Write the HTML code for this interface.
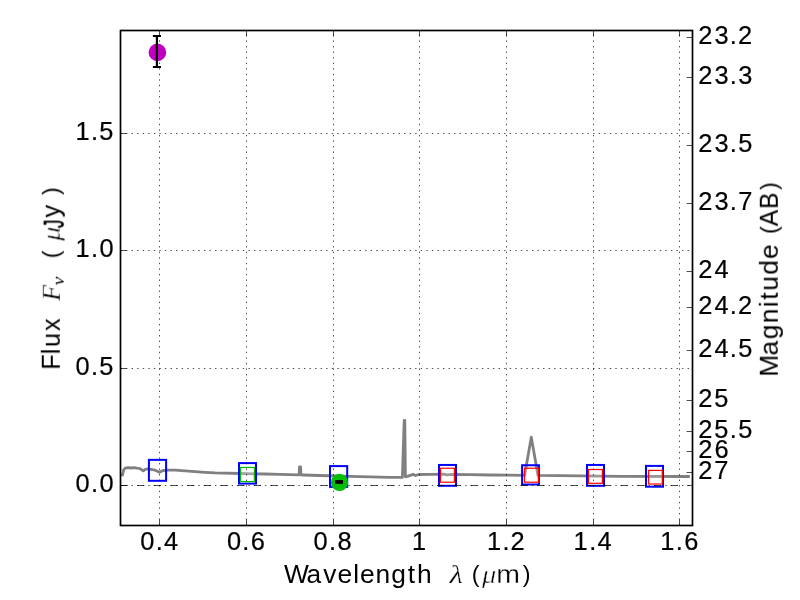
<!DOCTYPE html>
<html lang="en"><head><meta charset="utf-8"><title>Flux vs Wavelength</title>
<style>
html,body{margin:0;padding:0;background:#ffffff;}
body{width:800px;height:600px;overflow:hidden;position:relative;font-size:0;line-height:0;}
svg{display:block;position:absolute;left:0;top:0;font-family:"Liberation Sans",sans-serif;font-size:25.4px;}
text{fill:#000000;}
.m{font-family:"Liberation Serif",serif;font-style:italic;}
.k1{stroke:#ffffff;stroke-width:0.25px;}
.k2{stroke:#ffffff;stroke-width:0.45px;}
.b1{stroke:#000000;stroke-width:0.5px;}
.tk{stroke:#000000;stroke-width:0.22px;}
.txt{opacity:0.999;}
.grid{stroke:#000;stroke-width:0.7;stroke-dasharray:1.39 4.17;fill:none;}
.tick{stroke:#000;stroke-width:0.7;fill:none;}
</style></head><body>
<svg width="800" height="600" viewBox="0 0 800 600">
<rect x="0" y="0" width="800" height="600" fill="#ffffff"/>
<polyline fill="none" stroke="#808080" stroke-width="2.8" stroke-linejoin="round" stroke-linecap="butt" points="122.2,476.2 122.7,474 123.6,470.2 125.2,468.2 128,467.6 131,468 134,467.7 137,468.2 140,468.6 142,470 143.4,470.9 145,469.5 147,469 151,469.4 155,470.2 158,471.5 159.5,472.4 161,471.5 163,470.5 168,470.2 175,470.1 185,470.8 195,471.6 205,472.3 215,472.9 240,473.5 265,474 280,474.4 298.6,474.9 299.2,474.4 299.5,466.8 300.6,466.8 300.9,474.9 303,475 320,475.5 350,476.3 390,477.3 402.4,477.4 404.2,420.3 404.8,420.3 405.4,476.8 408,476.1 411,475.2 413,474.4 415.6,475.5 418.5,474.5 430,474.3 444,474.2 447,474.9 452,474.4 470,474.7 490,475 524.6,475.3 531.3,437.2 538,475.4 560,475.7 580,475.9 620,476.3 689.8,476.5"/>
<rect x="148.9" y="459.85" width="17.2" height="20.95" fill="none" stroke="#0000ff" stroke-width="2"/>
<rect x="239" y="463.1" width="17" height="20.5" fill="none" stroke="#0000ff" stroke-width="2"/>
<rect x="330" y="466.1" width="17.2" height="20.8" fill="none" stroke="#0000ff" stroke-width="2"/>
<rect x="439" y="464.95" width="17" height="20.85" fill="none" stroke="#0000ff" stroke-width="2"/>
<rect x="522.1" y="465.25" width="16.8" height="19.25" fill="none" stroke="#0000ff" stroke-width="2"/>
<rect x="587" y="464.95" width="17" height="20.85" fill="none" stroke="#0000ff" stroke-width="2"/>
<rect x="646" y="465.9" width="17" height="20.8" fill="none" stroke="#0000ff" stroke-width="2"/>
<rect x="240.5" y="467.45" width="13.9" height="14.15" fill="#ffffff" fill-opacity="0.3" stroke="#00bf00" stroke-width="1.2"/>
<rect x="440.5" y="468.25" width="13.9" height="13.95" fill="#ffffff" fill-opacity="0.2" stroke="#ff0000" stroke-width="1.2"/>
<rect x="524.5" y="468.25" width="13.9" height="13.95" fill="#ffffff" fill-opacity="0.2" stroke="#ff0000" stroke-width="1.2"/>
<rect x="588.5" y="469.5" width="13.9" height="13.8" fill="#ffffff" fill-opacity="0.2" stroke="#ff0000" stroke-width="1.2"/>
<rect x="648.6" y="470.4" width="13.7" height="13.6" fill="#ffffff" fill-opacity="0.2" stroke="#ff0000" stroke-width="1.2"/>
<g class="grid">
<line x1="159.5" y1="525.5" x2="159.5" y2="30.5"/>
<line x1="246.5" y1="525.5" x2="246.5" y2="30.5"/>
<line x1="333.5" y1="525.5" x2="333.5" y2="30.5"/>
<line x1="419.5" y1="525.5" x2="419.5" y2="30.5"/>
<line x1="506.5" y1="525.5" x2="506.5" y2="30.5"/>
<line x1="593.5" y1="525.5" x2="593.5" y2="30.5"/>
<line x1="679.5" y1="525.5" x2="679.5" y2="30.5"/>
<line x1="120.5" y1="485.5" x2="692.5" y2="485.5"/>
<line x1="120.5" y1="368.5" x2="692.5" y2="368.5"/>
<line x1="120.5" y1="250.5" x2="692.5" y2="250.5"/>
<line x1="120.5" y1="133.5" x2="692.5" y2="133.5"/>
</g>
<line x1="120.5" y1="485.5" x2="692.5" y2="485.5" stroke="#000" stroke-width="0.7" stroke-dasharray="7.1 9.567"/>
<circle cx="339.5" cy="482.4" r="8.6" fill="#04bd04"/>
<rect x="335" y="480.1" width="8" height="3.8" fill="#000"/>
<circle cx="157.4" cy="52.4" r="8.8" fill="#bf00bf"/>
<line x1="156.9" y1="36" x2="156.9" y2="67" stroke="#000" stroke-width="2.2"/>
<line x1="152.9" y1="36" x2="161" y2="36" stroke="#000" stroke-width="2"/>
<line x1="152.9" y1="67" x2="161" y2="67" stroke="#000" stroke-width="2"/>
<g class="tick">
<line x1="159.5" y1="525.5" x2="159.5" y2="519.6"/>
<line x1="159.5" y1="30.5" x2="159.5" y2="36.4"/>
<line x1="246.5" y1="525.5" x2="246.5" y2="519.6"/>
<line x1="246.5" y1="30.5" x2="246.5" y2="36.4"/>
<line x1="333.5" y1="525.5" x2="333.5" y2="519.6"/>
<line x1="333.5" y1="30.5" x2="333.5" y2="36.4"/>
<line x1="419.5" y1="525.5" x2="419.5" y2="519.6"/>
<line x1="419.5" y1="30.5" x2="419.5" y2="36.4"/>
<line x1="506.5" y1="525.5" x2="506.5" y2="519.6"/>
<line x1="506.5" y1="30.5" x2="506.5" y2="36.4"/>
<line x1="593.5" y1="525.5" x2="593.5" y2="519.6"/>
<line x1="593.5" y1="30.5" x2="593.5" y2="36.4"/>
<line x1="679.5" y1="525.5" x2="679.5" y2="519.6"/>
<line x1="679.5" y1="30.5" x2="679.5" y2="36.4"/>
<line x1="120.5" y1="485.5" x2="126.4" y2="485.5"/>
<line x1="120.5" y1="368.5" x2="126.4" y2="368.5"/>
<line x1="120.5" y1="250.5" x2="126.4" y2="250.5"/>
<line x1="120.5" y1="133.5" x2="126.4" y2="133.5"/>
<line x1="692.5" y1="37.5" x2="686.6" y2="37.5"/>
<line x1="692.5" y1="77.5" x2="686.6" y2="77.5"/>
<line x1="692.5" y1="145.5" x2="686.6" y2="145.5"/>
<line x1="692.5" y1="203.5" x2="686.6" y2="203.5"/>
<line x1="692.5" y1="271.5" x2="686.6" y2="271.5"/>
<line x1="692.5" y1="307.5" x2="686.6" y2="307.5"/>
<line x1="692.5" y1="350.5" x2="686.6" y2="350.5"/>
<line x1="692.5" y1="400.5" x2="686.6" y2="400.5"/>
<line x1="692.5" y1="431.5" x2="686.6" y2="431.5"/>
<line x1="692.5" y1="451.5" x2="686.6" y2="451.5"/>
<line x1="692.5" y1="472.5" x2="686.6" y2="472.5"/>
</g>
<rect x="120.5" y="30.5" width="572" height="495" fill="none" stroke="#000" stroke-width="1.7"/>
<g class="txt">
<g class="tk">
<text x="140.21 155.66 164.05" y="550" style="font-size:25.4px">0.4</text>
<text x="226.91 242.36 250.76" y="550" style="font-size:25.4px">0.6</text>
<text x="313.61 329.06 337.46" y="550" style="font-size:25.4px">0.8</text>
<text x="412.11" y="550" style="font-size:25.4px">1</text>
<text x="486.88 502.46 510.53" y="550" style="font-size:25.4px">1.2</text>
<text x="573.58 589.16 597.55" y="550" style="font-size:25.4px">1.4</text>
<text x="660.28 675.86 684.26" y="550" style="font-size:25.4px">1.6</text>
<text x="75.53 90.98 99.38" y="492" style="font-size:25.4px">0.0</text>
<text x="75.53 90.98 99.28" y="375" style="font-size:25.4px">0.5</text>
<text x="75.4 90.98 99.38" y="257" style="font-size:25.4px">1.0</text>
<text x="75.4 90.98 99.28" y="140" style="font-size:25.4px">1.5</text>
<text x="698.15 714.42 729.84 737.91" y="44" style="font-size:25.4px">23.2</text>
<text x="698.15 714.42 729.84 738.28" y="84" style="font-size:25.4px">23.3</text>
<text x="698.15 714.42 729.84 738.15" y="152" style="font-size:25.4px">23.5</text>
<text x="698.15 714.42 729.84 738.19" y="210" style="font-size:25.4px">23.7</text>
<text x="698.15 714.38" y="278" style="font-size:25.4px">24</text>
<text x="698.15 714.38 729.84 737.91" y="314" style="font-size:25.4px">24.2</text>
<text x="698.15 714.38 729.84 738.15" y="357" style="font-size:25.4px">24.5</text>
<text x="698.15 714.3" y="407" style="font-size:25.4px">25</text>
<text x="698.15 714.3 729.84 738.15" y="438" style="font-size:25.4px">25.5</text>
<text x="698.15 714.39" y="458" style="font-size:25.4px">26</text>
<text x="698.15 714.34" y="479" style="font-size:25.4px">27</text>
</g>
<text transform="translate(284,583) scale(1.0378,1)" x="-0.08 21.66 37.79 51.66 66.62 73.18 88.23 103.31 119.3 128.19" y="0">Wavelength</text>
<text x="449.7" y="583" class="m k1" style="font-size:25px" textLength="13" lengthAdjust="spacingAndGlyphs">&#955;</text>
<text x="471.7" y="582.1" style="font-size:23.4px">(</text>
<text x="482" y="583" class="m k2" style="font-size:24.2px" textLength="14.3" lengthAdjust="spacingAndGlyphs">&#956;</text>
<text transform="translate(496,583) scale(1.122,1)" x="0.33" y="0" class="k1">m</text>
<text x="522.8" y="582.1" style="font-size:23.4px">)</text>
<g transform="translate(59.8,369.3) rotate(-90)">
<text x="-0.57 15.05 22.16 38.19" y="0">Flux</text>
<text x="68.6" y="0" class="m k1" style="font-size:26px">F</text>
<text x="84.1" y="4.4" class="m" style="font-size:16.5px" textLength="8.6" lengthAdjust="spacingAndGlyphs">&#957;</text>
<text x="110.9" y="-0.8" style="font-size:23.4px">(</text>
<text x="128.5" y="0" class="m k2" style="font-size:24.2px" textLength="14.3" lengthAdjust="spacingAndGlyphs">&#956;</text>
<text x="141.3" y="3.6" class="b1" style="font-size:30px" textLength="8.4" lengthAdjust="spacingAndGlyphs">J</text>
<text x="151.8" y="0">y</text>
<text x="174.3" y="-0.8" style="font-size:23.4px">)</text>
</g>
<g transform="translate(777.8,376.5) rotate(-90)">
<text transform="translate(0,0) scale(1.0412,1)" x="-0.22 20.1 35.84 51.27 66.42 73.68 82.47 97.61 112.81" y="0">Magnitude</text>
<text x="142.4" y="-0.8" style="font-size:23.4px">(</text>
<text transform="translate(150,0) scale(0.9752,1)" x="0.29 17.83" y="0">AB</text>
<text x="186.6" y="-0.8" style="font-size:23.4px">)</text>
</g>
</g>
</svg>
</body></html>
